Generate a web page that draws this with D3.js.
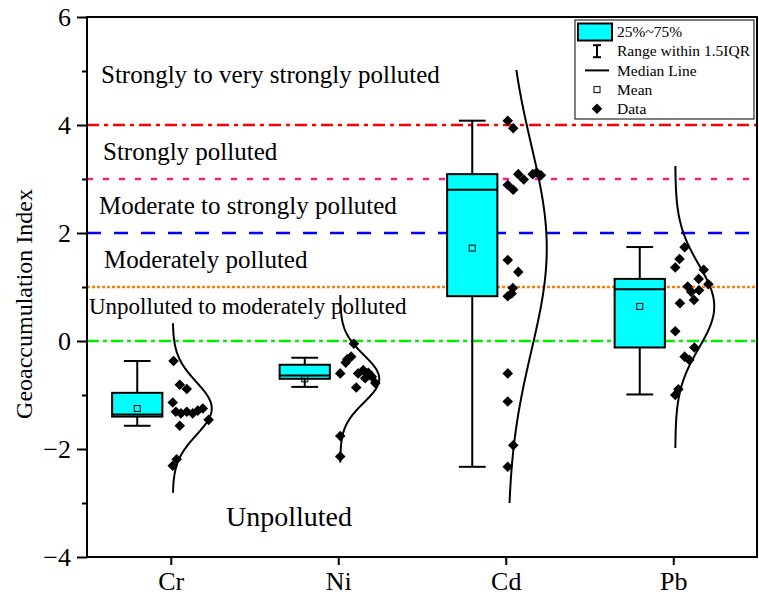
<!DOCTYPE html>
<html>
<head>
<meta charset="utf-8">
<script src="https://cdn.jsdelivr.net/npm/d3@7"></script>
<style>
  body { margin: 0; background: #fff; }
  svg { display: block; }
  text { font-family: "Liberation Serif", "Times New Roman", serif; fill: #000; }
</style>
</head>
<body>
<svg id="chart" width="759" height="599"></svg>
<script>
// ---- data ----
const elements = ["Cr", "Ni", "Cd", "Pb"];
const yTicks = [-4, -2, 0, 2, 4, 6];
const yMinorTicks = [-3, -1, 1, 3, 5];

// box statistics per element
const q1 = [-1.40, -0.70, 0.83, -0.12];
const median = [-1.36, -0.64, 2.80, 0.96];
const q3 = [-0.96, -0.44, 3.09, 1.15];
const whiskerLow = [-1.57, -0.85, -2.33, -0.99];
const whiskerHigh = [-0.37, -0.31, 4.08, 1.74];
const mean = [-1.25, -0.70, 1.72, 0.64];

// fitted normal curve per element (sd and drawn range)
const fitSd = [0.49, 0.44, 1.9, 0.77];
const fitLow = [-2.81, -2.25, -3.0, -1.98];
const fitHigh = [0.33, 0.85, 5.02, 3.24];

// individual Igeo values, with horizontal jitter (fraction of curve width)
const crValues = [-0.37, -0.81, -0.89, -1.14, -1.31, -1.34, -1.31, -1.34, -1.29, -1.25, -1.46, -1.57, -2.19, -2.31];
const crJitter = [0.02, 0.18, 0.36, 0, 0.08, 0.21, 0.36, 0.51, 0.64, 0.77, 0.92, 0.18, 0.10, 0];
const niValues = [-0.05, -0.29, -0.34, -0.40, -0.60, -0.60, -0.54, -0.59, -0.66, -0.69, -0.78, -0.86, -1.76, -2.14];
const niJitter = [0.35, 0.28, 0.18, 0.14, 0, 0.46, 0.59, 0.72, 0.81, 0.64, 0.90, 0.41, 0, 0];
const cdValues = [4.08, 3.94, 3.09, 2.99, 3.09, 3.12, 3.07, 2.89, 2.80, 1.50, 1.28, 0.98, 0.88, 0.83, -0.60, -1.12, -1.93, -2.33];
const cdJitter = [0, 0.14, 0.27, 0.41, 0.64, 0.74, 0.85, 0, 0.14, 0, 0.27, 0.13, 0.10, 0, 0, 0, 0.14, 0];
const pbValues = [1.735, 1.52, 1.36, 1.32, 1.15, 1.05, 1.01, 0.91, 0.94, 0.76, 0.70, 0.18, -0.12, -0.29, -0.35, -0.895, -1.0];
const pbJitter = [0.24, 0.11, 0, 0.73, 0.60, 0.85, 0.32, 0.41, 0.61, 0.48, 0.12, 0, 0.49, 0.24, 0.36, 0.08, 0];

// pollution class thresholds
const thresholdValues = [4, 3, 2, 1, 0];
const thresholdColors = ["#ff0000", "#ff1a8c", "#0000ff", "#ff8000", "#00ee00"];
const thresholdDashes = ["12,5,4,5", "6,10", "14,13", "3,2", "12,4,4,4"];

// class labels and the Igeo level of their baseline
const zoneLabels = ["Strongly to very strongly polluted", "Strongly polluted", "Moderate to strongly polluted",
  "Moderately polluted", "Unpolluted to moderately polluted", "Unpolluted"];
const zoneLevels = [4.78, 3.35, 2.35, 1.35, 0.50, -3.43];

const legendLabels = ["25%~75%", "Range within 1.5IQR", "Median Line", "Mean", "Data"];

// ---- layout ----
const svg = d3.select("#chart");
const plot = { left: 87, right: 757, top: 17, bottom: 557 };

const x = d3.scalePoint().domain(elements).range([plot.left, plot.right]).padding(0.5);
const y = d3.scaleLinear().domain([-4, 6]).range([plot.bottom, plot.top]);
const step = x.step();
const boxShift = -0.2 * step;
const boxW = 0.30 * step;
const capW = 0.16 * step;
const curveBase = 2;
const curveW = 39;

const groups = elements.map((el, i) => ({
  el, i,
  values: [crValues, niValues, cdValues, pbValues][i],
  jitter: [crJitter, niJitter, cdJitter, pbJitter][i]
}));

// threshold lines
svg.append("g").selectAll("line").data(thresholdValues).join("line")
  .attr("x1", plot.left).attr("x2", plot.right)
  .attr("y1", d => y(d)).attr("y2", d => y(d))
  .attr("stroke", (d, i) => thresholdColors[i])
  .attr("stroke-width", 2.6)
  .attr("stroke-dasharray", (d, i) => thresholdDashes[i]);

// class labels
const zoneX = [101, 103, 99, 104, 89, 226];
const zoneSize = [25, 25, 25, 25, 23, 28];
svg.append("g").selectAll("text").data(zoneLabels).join("text")
  .attr("x", (d, i) => zoneX[i])
  .attr("y", (d, i) => y(zoneLevels[i]))
  .attr("font-size", (d, i) => zoneSize[i])
  .text(d => d);

// box plots
const boxes = svg.append("g").selectAll("g").data(groups).join("g")
  .attr("transform", d => `translate(${x(d.el) + boxShift},0)`);
boxes.append("line")
  .attr("y1", d => y(whiskerLow[d.i])).attr("y2", d => y(whiskerHigh[d.i]))
  .attr("stroke", "#000").attr("stroke-width", 2);
boxes.append("line")
  .attr("x1", -capW / 2).attr("x2", capW / 2)
  .attr("y1", d => y(whiskerLow[d.i])).attr("y2", d => y(whiskerLow[d.i]))
  .attr("stroke", "#000").attr("stroke-width", 2);
boxes.append("line")
  .attr("x1", -capW / 2).attr("x2", capW / 2)
  .attr("y1", d => y(whiskerHigh[d.i])).attr("y2", d => y(whiskerHigh[d.i]))
  .attr("stroke", "#000").attr("stroke-width", 2);
boxes.append("rect")
  .attr("x", -boxW / 2).attr("width", boxW)
  .attr("y", d => y(q3[d.i])).attr("height", d => y(q1[d.i]) - y(q3[d.i]))
  .attr("fill", "#00ffff").attr("stroke", "#000").attr("stroke-width", 2);
boxes.append("line")
  .attr("x1", -boxW / 2).attr("x2", boxW / 2)
  .attr("y1", d => y(median[d.i])).attr("y2", d => y(median[d.i]))
  .attr("stroke", "#000").attr("stroke-width", 2);
boxes.append("rect")
  .attr("x", -3).attr("width", 6)
  .attr("y", d => y(mean[d.i]) - 3).attr("height", 6)
  .attr("fill", "none").attr("stroke", "#000").attr("stroke-width", 1);

// data points
const diamond = d3.symbol().type(d3.symbolSquare).size(56);
svg.append("g").selectAll("g").data(groups).join("g")
  .each(function (g) {
    d3.select(this).selectAll("path").data(g.values).join("path")
      .attr("d", diamond)
      .attr("transform", (v, k) => `translate(${x(g.el) + curveBase + g.jitter[k] * curveW},${y(v)}) rotate(45)`)
      .attr("fill", "#000");
  });

// normal distribution curves
const curveLine = d3.line().x(p => p[0]).y(p => p[1]);
svg.append("g").selectAll("path").data(groups).join("path")
  .attr("d", g => {
    const m = mean[g.i], s = fitSd[g.i];
    const pts = d3.range(fitLow[g.i], fitHigh[g.i] + 1e-9, 0.02).concat([fitHigh[g.i]])
      .map(t => [x(g.el) + curveBase + curveW * Math.exp(-((t - m) ** 2) / (2 * s * s)), y(t)]);
    return curveLine(pts);
  })
  .attr("fill", "none").attr("stroke", "#000").attr("stroke-width", 2);

// axes
const fmt = d => d < 0 ? "\u2212" + Math.abs(d) : String(d);
svg.append("g").attr("transform", `translate(${plot.left},0)`)
  .call(d3.axisLeft(y).tickValues(yTicks).tickSize(10).tickPadding(6).tickFormat(fmt));
svg.append("g").attr("transform", `translate(${plot.left},0)`)
  .call(d3.axisLeft(y).tickValues(yMinorTicks).tickSize(5).tickFormat(""));
svg.append("g").attr("transform", `translate(0,${plot.bottom})`)
  .call(d3.axisBottom(x).tickSize(8).tickPadding(7));
svg.selectAll(".domain").remove();
svg.selectAll(".tick line").attr("stroke", "#000").attr("stroke-width", 2);
svg.selectAll(".tick text").attr("font-family", "Liberation Serif, Times New Roman, serif")
  .attr("font-size", 26).attr("fill", "#000");

// frame
svg.append("rect")
  .attr("x", plot.left).attr("y", plot.top)
  .attr("width", plot.right - plot.left).attr("height", plot.bottom - plot.top)
  .attr("fill", "none").attr("stroke", "#000").attr("stroke-width", 2);

// y-axis title
svg.append("text")
  .attr("transform", `translate(32,${(plot.top + plot.bottom) / 2 + 17}) rotate(-90)`)
  .attr("text-anchor", "middle").attr("font-size", 24)
  .text("Geoaccumulation Index");

// legend
const lg = svg.append("g").attr("transform", "translate(575,20)");
lg.append("rect").attr("width", 179).attr("height", 99)
  .attr("fill", "#fff").attr("stroke", "#000").attr("stroke-width", 1);
const rowY = k => 12 + k * 19.2;
const iconX = 22;
lg.append("rect").attr("x", 3).attr("y", rowY(0) - 8.5).attr("width", 34).attr("height", 17)
  .attr("fill", "#00ffff").attr("stroke", "#000").attr("stroke-width", 2);
lg.append("line").attr("x1", iconX).attr("x2", iconX).attr("y1", rowY(1) - 6).attr("y2", rowY(1) + 6)
  .attr("stroke", "#000").attr("stroke-width", 2);
lg.append("line").attr("x1", iconX - 4).attr("x2", iconX + 4).attr("y1", rowY(1) - 6).attr("y2", rowY(1) - 6)
  .attr("stroke", "#000").attr("stroke-width", 2);
lg.append("line").attr("x1", iconX - 4).attr("x2", iconX + 4).attr("y1", rowY(1) + 6).attr("y2", rowY(1) + 6)
  .attr("stroke", "#000").attr("stroke-width", 2);
lg.append("line").attr("x1", iconX - 12).attr("x2", iconX + 12).attr("y1", rowY(2)).attr("y2", rowY(2))
  .attr("stroke", "#000").attr("stroke-width", 2);
lg.append("rect").attr("x", iconX - 3).attr("y", rowY(3) - 3).attr("width", 6).attr("height", 6)
  .attr("fill", "none").attr("stroke", "#000").attr("stroke-width", 1);
lg.append("path").attr("d", diamond)
  .attr("transform", `translate(${iconX},${rowY(4)}) rotate(45)`).attr("fill", "#000");
lg.selectAll("text.lab").data(legendLabels).join("text").attr("class", "lab")
  .attr("x", 42).attr("y", (d, k) => rowY(k)).attr("dy", "0.33em")
  .attr("font-size", 15.5).text(d => d);
</script>
</body>
</html>
